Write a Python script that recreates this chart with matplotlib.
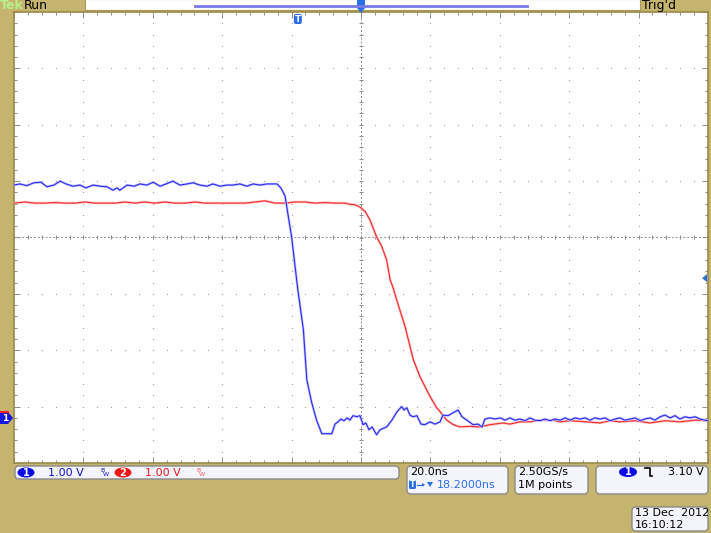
import matplotlib
matplotlib.use('Agg')
import matplotlib.pyplot as plt
import numpy as np
from matplotlib.patches import FancyBboxPatch, Polygon, Ellipse, Rectangle

# time in ns (20 ns/div, trigger at centre), volts (1 V/div)
blue_t = [-100.0, -98.3, -96.3, -94.3, -92.2, -90.5, -88.5, -86.7, -85.0, -83.0, -81.0, -79.3,
          -77.2, -75.2, -73.2, -71.5, -70.3, -69.5, -67.4, -65.4, -63.7, -61.7, -59.9, -57.9,
          -56.2, -54.2, -52.2, -50.1, -48.4, -46.4, -44.4, -42.7, -40.6, -38.6, -36.9, -34.9,
          -32.9, -31.1, -29.1, -27.1, -25.4, -24.2, -23.1, -21.9,
          -20.0, -18.2, -16.6, -15.6, -14.2, -12.8, -11.3, -8.4, -7.5, -6.6, -5.8, -4.9, -4.0,
          -3.2, -2.3, -1.2, -0.3, 0.6, 1.4, 2.3, 3.2, 4.5, 5.5, 7.4, 8.9, 10.4, 11.7, 12.4,
          13.2, 14.1, 15.0, 16.1, 17.3, 18.4, 19.9, 21.3, 22.8, 23.6, 25.1, 26.5, 28.0, 29.1,
          30.5, 32.3, 33.7, 34.9, 35.7, 37.2, 38.6, 40.1, 41.5, 42.9, 44.4, 45.8, 47.3, 48.7,
          50.1, 51.6, 53.0, 54.5, 55.9, 57.4, 58.8, 60.2, 61.7, 63.1, 64.6, 66.0, 67.4, 68.9,
          70.3, 71.8, 73.2, 74.6, 76.1, 77.5, 79.0, 80.4, 81.8, 83.3, 84.7, 86.2, 87.6, 89.1,
          90.5, 91.9, 93.4, 94.8, 96.3, 97.7, 99.1, 100.0]
blue_v = [4.13, 4.15, 4.12, 4.17, 4.18, 4.10, 4.13, 4.20, 4.15, 4.11, 4.13, 4.08,
          4.13, 4.11, 4.10, 4.04, 4.08, 4.04, 4.13, 4.11, 4.15, 4.13, 4.18, 4.11,
          4.15, 4.20, 4.13, 4.15, 4.17, 4.13, 4.11, 4.15, 4.11, 4.13, 4.13, 4.15,
          4.11, 4.15, 4.13, 4.15, 4.15, 4.15, 4.08, 3.94,
          3.21, 2.27, 1.56, 0.67, 0.27, -0.04, -0.28, -0.28, -0.11, -0.07, -0.02, -0.05, 0.0,
          -0.04, 0.04, 0.02, 0.04, -0.12, -0.09, -0.21, -0.16, -0.30, -0.21, -0.16, -0.04, 0.11, 0.20, 0.14,
          0.18, 0.05, 0.02, 0.04, -0.11, -0.12, -0.07, -0.11, -0.07, 0.05, 0.04, 0.09, 0.14, 0.02,
          -0.04, -0.12, -0.11, -0.16, -0.02, 0.0, -0.02, 0.0, -0.04, 0.0, -0.04, -0.02, -0.05, 0.0,
          -0.04, -0.05, -0.02, -0.05, -0.02, -0.04, 0.0, -0.04, 0.0, -0.02, 0.0, -0.04, 0.0, -0.02,
          0.0, -0.05, -0.02, 0.0, -0.04, -0.02, 0.0, -0.05, -0.02, 0.0, -0.04, 0.02, 0.05, 0.0,
          0.04, -0.02, 0.02, 0.0, 0.02, -0.02, -0.04, -0.05]

red_t = [-100.0, -96.8, -94.0, -91.1, -88.2, -85.3, -82.4, -79.5, -76.7, -73.8, -70.9, -68.0,
         -65.1, -62.3, -59.4, -56.5, -53.6, -50.7, -47.8, -45.0, -42.1, -39.2, -36.3, -33.4,
         -30.5, -27.7, -24.8, -21.9, -19.0, -16.1, -13.3, -10.4, -7.5, -4.6, -3.2, -1.7, -0.3,
         1.2, 2.6, 4.5, 6.0, 7.4, 8.4, 9.3, 10.3, 12.7, 15.1, 17.0, 19.9, 21.8, 22.8, 24.7,
         26.6, 28.5, 31.4, 34.3, 37.2, 40.9, 42.9, 45.8, 48.7, 51.6, 55.3, 57.4, 60.2, 65.1,
         68.9, 71.8, 74.6, 79.0, 83.3, 87.6, 91.9, 96.3, 100.0]
red_v = [3.81, 3.83, 3.81, 3.81, 3.82, 3.81, 3.81, 3.83, 3.81, 3.81, 3.81, 3.83,
         3.81, 3.83, 3.81, 3.83, 3.81, 3.81, 3.83, 3.81, 3.81, 3.81, 3.81, 3.81,
         3.83, 3.85, 3.81, 3.81, 3.83, 3.83, 3.81, 3.82, 3.81, 3.81, 3.79, 3.78, 3.74,
         3.66, 3.51, 3.21, 3.04, 2.80, 2.45, 2.30, 2.09, 1.62, 1.03, 0.73, 0.38, 0.18, 0.11, -0.04,
         -0.12, -0.16, -0.15, -0.16, -0.12, -0.09, -0.11, -0.07, -0.07, -0.04, -0.04, -0.07, -0.05, -0.07,
         -0.09, -0.05, -0.07, -0.05, -0.09, -0.05, -0.07, -0.04, -0.05]

trig_delay = -18.2   # T marker position, ns
trig_level = 2.48    # trigger level arrow on right edge, V

BG = '#c5b46d'
GRIDC = '#8c8c8c'

fig = plt.figure(figsize=(7.11, 5.33), dpi=100)
fig.patch.set_facecolor(BG)

W, H = 711.0, 533.0
ax = fig.add_axes([14 / W, 1 - 463 / H, (708 - 14) / W, (463 - 12) / H])
ax.set_facecolor('white')
ax.set_xlim(-100, 100)
ax.set_ylim(-0.8, 7.2)

xmaj = np.arange(-100, 101, 20)
ymaj = np.arange(-0.8, 7.21, 1.0)
xmin = np.arange(-100, 100.1, 4)
ymin = np.arange(-0.8, 7.21, 0.2)
ax.set_xticks(xmaj)
ax.set_yticks(ymaj)
ax.set_xticks(xmin, minor=True)
ax.set_yticks(ymin, minor=True)
ax.tick_params(which='both', direction='in', top=True, right=True, labelbottom=False,
               labelleft=False, color=GRIDC, width=0.7)
ax.tick_params(which='major', length=4)
ax.tick_params(which='minor', length=2)
for s in ax.spines.values():
    s.set_color('#9c8a48')
    s.set_linewidth(1.2)

# dotted graticule
for gx in xmaj[1:-1]:
    if gx != 0:
        ax.plot(np.full(len(ymin), gx), ymin, ls='none', marker='s', ms=0.8, color='#a0a0a0', mew=0)
for gy in ymaj[1:-1]:
    if abs(gy - 3.2) > 1e-6:
        ax.plot(xmin, np.full(len(xmin), gy), ls='none', marker='s', ms=0.8, color='#a0a0a0', mew=0)
# centre axes with ticks
ax.axvline(0, color=GRIDC, lw=0.7, ls=(0, (2, 2)))
ax.axhline(3.2, color=GRIDC, lw=0.7, ls=(0, (2, 2)))
ax.plot(xmin, np.full(len(xmin), 3.2), ls='none', marker='|', ms=3, color=GRIDC, mew=0.7)
ax.plot(np.zeros(len(ymin)), ymin, ls='none', marker='_', ms=3, color=GRIDC, mew=0.7)

# traces
ax.plot(red_t, red_v, color='#ffc4c4', lw=1.8, zorder=4, solid_joinstyle='round')
ax.plot(red_t, red_v, color='#f22a2a', lw=0.8, zorder=5)
ax.plot(blue_t, blue_v, color='#c4c4ff', lw=1.8, zorder=6, solid_joinstyle='round')
ax.plot(blue_t, blue_v, color='#2a2af2', lw=0.8, zorder=7)

# overlay in pixel coords for the scope chrome
ov = fig.add_axes([0, 0, 1, 1], facecolor='none')
ov.set_xlim(0, W)
ov.set_ylim(H, 0)
ov.axis('off')

TXT = dict(fontsize=8, family='DejaVu Sans', va='center')

# top bar
ov.text(0, 5.5, 'Tek', color='#b8f08c', fontweight='bold', fontsize=9, va='center')
ov.text(24, 5.5, 'Run', color='black', fontsize=9, va='center')
ov.add_patch(Rectangle((85, -1), 555, 11, facecolor='white', edgecolor='#a89a5a', lw=0.8))
ov.plot([195, 527], [6, 6], color='#7a7ae8', lw=2)
ov.text(642, 5.5, "Trig'd", color='black', fontsize=9, va='center')
ov.add_patch(Polygon([[357, 0], [365, 0], [365, 8], [361, 13], [357, 8]], closed=True,
                     facecolor='#2a6fe8', edgecolor='none'))

# trigger position marker (T)
tx = 14 + (trig_delay + 100) / 200 * 694
ov.add_patch(FancyBboxPatch((tx - 4, 14), 8, 10, boxstyle='round,pad=0,rounding_size=2',
                            facecolor='#2a6fe8', edgecolor='none'))
ov.text(tx, 19.5, 'T', color='white', fontsize=6.5, fontweight='bold', ha='center', va='center')

# channel 1 ground marker
gy = 418
ov.plot([1, 8], [412, 412], color='#ff2020', lw=1.5)
ov.add_patch(Polygon([[0, gy - 6], [8, gy - 6], [13, gy], [8, gy + 6], [0, gy + 6]], closed=True,
                     facecolor='#1515e0', edgecolor='none'))
ov.text(5, gy + 0.5, '1', color='white', fontsize=6.5, fontweight='bold', ha='center', va='center')

# trigger level arrow
ty = 418 - trig_level * 56.4
ov.add_patch(Polygon([[702, ty], [707, ty - 4], [707, ty + 4]], closed=True,
                     facecolor='#2a6fe8', edgecolor='none'))

# bottom readouts
def box(x0, y0, x1, y1):
    ov.add_patch(FancyBboxPatch((x0, y0), x1 - x0, y1 - y0,
                                boxstyle='round,pad=0,rounding_size=4',
                                facecolor='#f4f4fc', edgecolor='#8a8a8a', lw=1.0))

box(15, 466, 399, 479)
ov.add_patch(Ellipse((26, 472.5), 17, 10, facecolor='#0a0ae8', edgecolor='none'))
ov.text(26, 472.5, '1', color='white', fontsize=7, fontweight='bold', ha='center', va='center')
ov.text(48, 472.5, '1.00 V', color='#1010d0', **TXT)
ov.text(100, 470, 'B', color='#1010d0', fontsize=4.5, va='center')
ov.text(103, 474.5, 'W', color='#1010d0', fontsize=4.5, va='center')
ov.add_patch(Ellipse((123, 472.5), 17, 10, facecolor='#f01818', edgecolor='none'))
ov.text(123, 472.5, '2', color='white', fontsize=7, fontweight='bold', ha='center', va='center')
ov.text(145, 472.5, '1.00 V', color='#f01818', **TXT)
ov.text(196, 470, 'B', color='#f06060', fontsize=4.5, va='center')
ov.text(199, 474.5, 'W', color='#f06060', fontsize=4.5, va='center')

box(407, 466, 508, 494)
ov.text(410, 472, '20.0ns', color='black', **TXT)
ov.add_patch(FancyBboxPatch((409, 480), 7, 9, boxstyle='round,pad=0,rounding_size=1.5',
                            facecolor='#2a6fe8', edgecolor='none'))
ov.text(412.5, 484.5, 'T', color='white', fontsize=5.5, fontweight='bold', ha='center', va='center')
ov.plot([417, 423], [484.5, 484.5], color='#2a6fe8', lw=0.9)
ov.add_patch(Polygon([[422, 483], [425, 484.5], [422, 486]], closed=True, facecolor='#2a6fe8', edgecolor='none'))
ov.add_patch(Polygon([[427, 482], [433, 482], [430, 487]], closed=True, facecolor='#2a6fe8', edgecolor='none'))
ov.text(437, 485, '18.2000ns', color='#2a6fe8', **TXT)

box(515, 466, 588, 494)
ov.text(518, 472, '2.50GS/s', color='black', **TXT)
ov.text(518, 485, '1M points', color='black', **TXT)

box(596, 466, 708, 494)
ov.add_patch(Ellipse((628, 472), 18, 10, facecolor='#0a0ae8', edgecolor='none'))
ov.text(628, 472, '1', color='white', fontsize=7, fontweight='bold', ha='center', va='center')
ov.plot([645, 650, 650, 652], [468, 468, 476, 476], color='black', lw=1.2)
ov.text(668, 472, '3.10 V', color='black', **TXT)

box(632, 507, 708, 531)
ov.text(635, 513, '13 Dec  2012', color='black', **TXT)
ov.text(635, 525, '16:10:12', color='black', **TXT)

fig.savefig('out.png', dpi=100, facecolor=BG)
